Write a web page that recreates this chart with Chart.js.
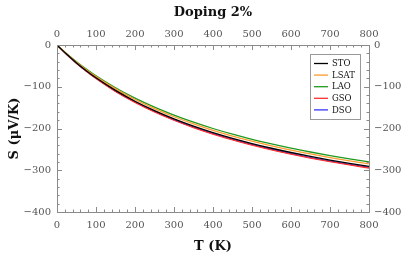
<!DOCTYPE html>
<html>
<head>
<meta charset="utf-8">
<script src="https://cdn.jsdelivr.net/npm/chart.js@4.4.0/dist/chart.umd.min.js"></script>
<style>
  html, body { margin: 0; padding: 0; background: #fff; }
</style>
</head>
<body>
<canvas id="seebeckChart" width="416" height="258"></canvas>
<script>
// * data (S in µV/K)
const temps = [0, 25, 50, 75, 100, 150, 200, 250, 300, 350, 400, 450, 500, 550, 600, 650, 700, 750, 800];
const sto  = [0, -22.4, -42.9, -61.5, -78.6, -108.8, -134.7, -157.2, -176.9, -194.3, -209.8, -223.6, -236.0, -247.3, -257.5, -266.9, -275.5, -283.3, -290.6];
const lsat = [0, -21.6, -41.3, -59.3, -75.8, -105.2, -130.6, -152.5, -171.9, -189.0, -204.3, -218.0, -230.3, -241.5, -251.7, -260.9, -269.5, -277.4, -284.7];
const lao  = [0, -20.9, -40.0, -57.5, -73.7, -102.4, -127.3, -148.9, -168.0, -184.9, -200.0, -213.6, -225.8, -236.9, -247.1, -256.3, -264.9, -272.7, -280.0];
const gso  = [0, -23.0, -44.0, -63.0, -80.4, -111.2, -137.5, -160.3, -180.2, -197.8, -213.4, -227.4, -239.9, -251.2, -261.4, -270.8, -279.4, -287.3, -294.6];
const dso  = [0, -22.8, -43.6, -62.5, -79.8, -110.4, -136.6, -159.3, -179.1, -196.6, -212.2, -226.1, -238.6, -249.9, -260.1, -269.5, -278.1, -286.0, -293.3];

const seriesNames = ["STO", "LSAT", "LAO", "GSO", "DSO"];
const seriesVals = [sto, lsat, lao, gso, dso];
const seriesColor = ["#000000", "#ff9a2e", "#1f9a1f", "#ff3030", "#3535ff"];

const xMin = 0, xMax = 800, xStep = 100;
const yMin = -400, yMax = 0, yStep = 100;
const minorStep = 20;

const frameColor = "#8a8a8a";
const tickColor = "#555";
const serif = "'DejaVu Serif', 'Liberation Serif', serif";
const tickFont = { family: serif, size: 10 };
const titleFont = { family: serif, size: 13, weight: "bold" };

// ? real minus sign on the labels
const fmt = (v) => (v < 0 ? "\u2212" + Math.abs(v) : String(v));

// ? ticks pointing inward, like the original frame
const frameTicks = {
  id: "frameTicks",
  afterDatasetsDraw(chart) {
    const { ctx, chartArea: a, scales } = chart;
    ctx.save();
    ctx.strokeStyle = frameColor;
    ctx.lineWidth = 1;
    ctx.beginPath();
    for (let v = xMin; v <= xMax; v += minorStep) {
      const px = Math.round(scales.x.getPixelForValue(v)) + 0.5;
      const len = v % xStep === 0 ? 5 : 2.5;
      ctx.moveTo(px, a.bottom); ctx.lineTo(px, a.bottom - len);
      ctx.moveTo(px, a.top); ctx.lineTo(px, a.top + len);
    }
    for (let v = yMin; v <= yMax; v += minorStep) {
      const py = Math.round(scales.y.getPixelForValue(v)) + 0.5;
      const len = v % yStep === 0 ? 5 : 2.5;
      ctx.moveTo(a.left, py); ctx.lineTo(a.left + len, py);
      ctx.moveTo(a.right, py); ctx.lineTo(a.right - len, py);
    }
    ctx.stroke();
    ctx.restore();
  },
};

// ? framed legend inside the plot, top right
const boxLegend = {
  id: "boxLegend",
  afterDraw(chart) {
    const { ctx, chartArea: a } = chart;
    const sets = chart.data.datasets;
    const w = 50, rowH = 11.6;
    const h = rowH * sets.length + 7;
    const x0 = a.right - 9 - w, y0 = a.top + 9;
    ctx.save();
    ctx.fillStyle = "#fff";
    ctx.fillRect(x0, y0, w, h);
    ctx.strokeStyle = "#999";
    ctx.lineWidth = 1;
    ctx.strokeRect(Math.round(x0) + 0.5, Math.round(y0) + 0.5, w, h);
    ctx.font = "8.5px " + serif;
    ctx.textBaseline = "middle";
    sets.forEach((ds, i) => {
      const yy = y0 + 9.5 + i * rowH;
      ctx.strokeStyle = ds.borderColor;
      ctx.lineWidth = 1.3;
      ctx.beginPath();
      ctx.moveTo(x0 + 4, yy);
      ctx.lineTo(x0 + 18, yy);
      ctx.stroke();
      ctx.fillStyle = "#111";
      ctx.fillText(ds.label, x0 + 22, yy + 0.5);
    });
    ctx.restore();
  },
};

const datasets = seriesNames.map((name, i) => ({
  label: name,
  data: temps.map((t, j) => ({ x: t, y: seriesVals[i][j] })),
  borderColor: seriesColor[i],
  backgroundColor: seriesColor[i],
  borderWidth: 1.3,
  pointRadius: 0,
  cubicInterpolationMode: "monotone",
  xAxisID: "x",
  yAxisID: "y",
}));

const xTicks = { stepSize: xStep, font: tickFont, color: tickColor, maxRotation: 0, autoSkip: false, callback: fmt };
const yTicks = { stepSize: yStep, font: tickFont, color: tickColor, autoSkip: false, callback: fmt };
const noGrid = { display: false, drawTicks: false };
const border = { display: true, color: frameColor, width: 1 };

const chart = new Chart(document.getElementById("seebeckChart").getContext("2d"), {
  type: "line",
  data: { datasets },
  options: {
    responsive: false,
    animation: false,
    layout: { padding: 0 },
    plugins: { legend: { display: false }, tooltip: { enabled: false } },
    scales: {
      x: {
        type: "linear", position: "bottom", min: xMin, max: xMax,
        ticks: { ...xTicks, padding: 7 }, grid: noGrid, border,
        title: { display: true, text: "T (K)", font: titleFont, color: "#111", padding: { top: 0, bottom: 4 } },
        afterFit: (s) => { s.height = 46; },
      },
      x2: {
        type: "linear", position: "top", min: xMin, max: xMax,
        ticks: { ...xTicks, padding: 5 }, grid: noGrid, border,
        title: { display: true, text: "Doping 2%", font: titleFont, color: "#111", padding: { top: 5, bottom: 0 } },
        afterFit: (s) => { s.height = 45; },
      },
      y: {
        type: "linear", position: "left", min: yMin, max: yMax,
        ticks: { ...yTicks, padding: 6 }, grid: noGrid, border,
        title: { display: true, text: "S (μV/K)", font: titleFont, color: "#111", padding: { top: 7, bottom: 0 } },
        afterFit: (s) => { s.width = 57; },
      },
      y2: {
        type: "linear", position: "right", min: yMin, max: yMax,
        ticks: { ...yTicks, padding: 5 }, grid: noGrid, border,
        afterFit: (s) => { s.width = 47; },
      },
    },
  },
  plugins: [frameTicks, boxLegend],
});
</script>
</body>
</html>
